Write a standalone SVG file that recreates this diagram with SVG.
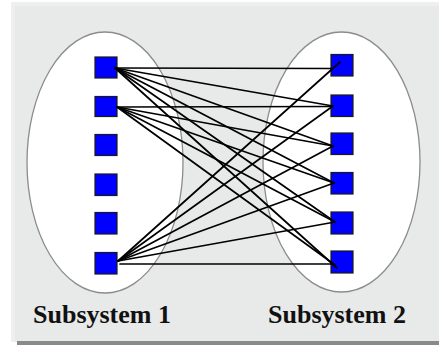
<svg xmlns="http://www.w3.org/2000/svg" width="439" height="345" viewBox="0 0 439 345">
<style>
.sub{fill:#ffffff;stroke:#8c8c8c;stroke-width:1.3}
.nd{fill:#0000ff;stroke:#1a1a1a;stroke-width:1.2}
.ln{stroke:#000;stroke-width:1.7;fill:none;stroke-linecap:round}
.lbl{font-family:"Liberation Serif","Times New Roman",serif;font-weight:bold;font-size:26px;fill:#111}
</style>
<rect x="0" y="0" width="439" height="345" fill="#ffffff"/>
<rect x="11" y="2" width="428" height="340" fill="#eef0ef"/>
<rect x="15" y="6" width="424" height="336" fill="#e8e9e9"/>
<rect x="17" y="341" width="422" height="4" fill="#8a8a8a"/>
<g id="subsystem1"><ellipse class="sub" cx="105" cy="162.5" rx="78" ry="130.5"/></g>
<g id="subsystem2"><ellipse class="sub" cx="341.5" cy="162" rx="78.5" ry="130"/></g>
<g id="L1"><rect class="nd" x="95" y="57" width="22" height="21"/></g>
<g id="L2"><rect class="nd" x="95" y="96.5" width="22" height="20"/></g>
<g id="L3"><rect class="nd" x="95" y="134.5" width="22" height="21"/></g>
<g id="L4"><rect class="nd" x="95" y="174" width="22" height="21.5"/></g>
<g id="L5"><rect class="nd" x="95" y="212.5" width="22" height="21.5"/></g>
<g id="L6"><rect class="nd" x="95" y="252.5" width="22" height="21.5"/></g>
<g id="R1"><rect class="nd" x="331" y="54.5" width="22" height="21.5"/></g>
<g id="R2"><rect class="nd" x="331" y="95" width="22" height="21.5"/></g>
<g id="R3"><rect class="nd" x="331" y="133" width="22" height="21.5"/></g>
<g id="R4"><rect class="nd" x="331" y="172.5" width="22" height="21.5"/></g>
<g id="R5"><rect class="nd" x="331" y="212" width="22" height="22"/></g>
<g id="R6"><rect class="nd" x="331" y="251" width="22" height="22"/></g>
<g id="connectors">
<line class="ln" x1="117" y1="68" x2="332" y2="68.5"/>
<line class="ln" x1="115" y1="68" x2="333" y2="106"/>
<line class="ln" x1="115" y1="68" x2="333" y2="146"/>
<line class="ln" x1="115" y1="68" x2="334" y2="183"/>
<line class="ln" x1="115" y1="68" x2="335" y2="222"/>
<line class="ln" x1="115" y1="68" x2="337" y2="268"/>
<line class="ln" x1="119" y1="107" x2="333" y2="106.5"/>
<line class="ln" x1="117" y1="107" x2="333" y2="146"/>
<line class="ln" x1="117" y1="107" x2="334" y2="183"/>
<line class="ln" x1="117" y1="107" x2="335" y2="222"/>
<line class="ln" x1="117" y1="107" x2="335" y2="265"/>
<line class="ln" x1="118" y1="261" x2="340" y2="62"/>
<line class="ln" x1="118" y1="261" x2="333" y2="106"/>
<line class="ln" x1="118" y1="261" x2="333" y2="146"/>
<line class="ln" x1="118" y1="261" x2="334" y2="183"/>
<line class="ln" x1="118" y1="261" x2="335" y2="222"/>
<line class="ln" x1="120" y1="264" x2="334" y2="264"/>
</g>
<text class="lbl" x="33" y="323">Subsystem 1</text>
<text class="lbl" x="268" y="323">Subsystem 2</text>
</svg>
